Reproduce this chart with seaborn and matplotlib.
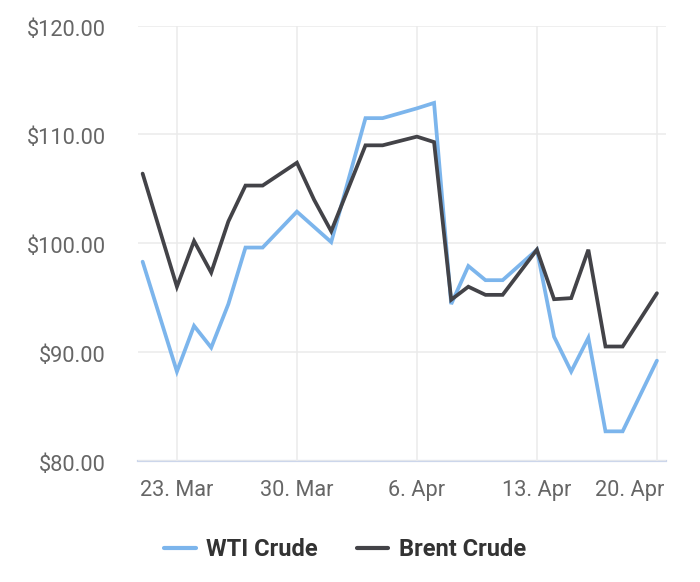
import matplotlib
matplotlib.use("Agg")
import matplotlib.pyplot as plt
from matplotlib.transforms import ScaledTranslation
import seaborn as sns
import pandas as pd
import numpy as np

dates = ["2022-03-21", "2022-03-23", "2022-03-24", "2022-03-25", "2022-03-26",
         "2022-03-27", "2022-03-28", "2022-03-30", "2022-03-31", "2022-04-01",
         "2022-04-03", "2022-04-04", "2022-04-06", "2022-04-07", "2022-04-08",
         "2022-04-09", "2022-04-10", "2022-04-11", "2022-04-13", "2022-04-14",
         "2022-04-15", "2022-04-16", "2022-04-17", "2022-04-18", "2022-04-20"]
wti = [98.3, 88.2, 92.4, 90.4, 94.4, 99.6, 99.6, 102.9, 101.5, 100.1,
       111.5, 111.5, 112.4, 112.9, 94.4, 97.9, 96.6, 96.6, 99.4, 91.4,
       88.2, 91.3, 82.7, 82.7, 89.2]
brent = [106.4, 96.0, 100.2, 97.3, 102.0, 105.3, 105.3, 107.4, 104.0, 101.1,
         109.0, 109.0, 109.8, 109.3, 94.8, 96.0, 95.25, 95.25, 99.4, 94.85,
         94.95, 99.4, 90.5, 90.5, 95.4]
series_names = ["WTI Crude", "Brent Crude"]
series_colors = ["#7cb5ec", "#434348"]
tick_dates = ["2022-03-23", "2022-03-30", "2022-04-06", "2022-04-13", "2022-04-20"]
tick_labels = ["23. Mar", "30. Mar", "6. Apr", "13. Apr", "20. Apr"]
y_ticks = [80, 90, 100, 110, 120]
y_labels = ["$80.00", "$90.00", "$100.00", "$110.00", "$120.00"]

df = pd.DataFrame({
    "date": pd.to_datetime(dates * 2),
    "price": wti + brent,
    "series": [series_names[0]] * len(dates) + [series_names[1]] * len(dates),
})

sns.set_theme(style="white")
plt.rcParams["font.family"] = ["Roboto", "DejaVu Sans"]

fig = plt.figure(figsize=(7.0, 5.82), dpi=100)
ax = fig.add_axes([138 / 700, 1 - 460.7 / 582, 528 / 700, 435 / 582])

sns.lineplot(data=df, x="date", y="price", hue="series",
             palette=dict(zip(series_names, series_colors)),
             linewidth=2.7, ax=ax, legend=False, estimator=None,
             solid_joinstyle="miter")

d0 = pd.Timestamp(dates[0])
ax.set_xlim(d0 - pd.Timedelta(days=0.27), d0 + pd.Timedelta(days=30.53))
ax.set_ylim(80, 120)

ax.set_yticks(y_ticks)
ax.set_yticklabels(y_labels)
ax.set_xticks(pd.to_datetime(tick_dates))
ax.set_xticklabels(tick_labels)

ax.grid(True, color="#ebebeb", linewidth=1.1)
ax.set_axisbelow(True)
for s in ["top", "right", "left"]:
    ax.spines[s].set_visible(False)
ax.spines["bottom"].set_color("#ccd6eb")
ax.spines["bottom"].set_linewidth(1.6)
ax.spines["bottom"].set_zorder(0.5)

ax.tick_params(axis="y", length=0, pad=23, labelsize=15.7, labelcolor="#666666")
ax.tick_params(axis="x", length=13, width=1.4, color="#c4c4c4", pad=1,
               labelsize=15.7, labelcolor="#666666")
ax.set_xlabel("")
ax.set_ylabel("")

for lbl in ax.get_yticklabels():
    lbl.set_transform(lbl.get_transform() + ScaledTranslation(0, -2 / 100, fig.dpi_scale_trans))

last = ax.get_xticklabels()[-1]
last.set_ha("right")
last.set_transform(last.get_transform() + ScaledTranslation(7.6 / 100, 0, fig.dpi_scale_trans))

handles = [plt.Line2D([], [], color=c, linewidth=3.0) for c in series_colors]
fig.legend(handles, series_names, loc="center", ncol=2, frameon=False,
           bbox_to_anchor=(345 / 700, 1 - 550 / 582),
           prop={"family": ["Roboto", "DejaVu Sans"], "weight": "bold", "size": 17},
           labelcolor="#333333", handlelength=1.32, handletextpad=0.45,
           columnspacing=1.65)

fig.savefig("out.png", dpi=100)
